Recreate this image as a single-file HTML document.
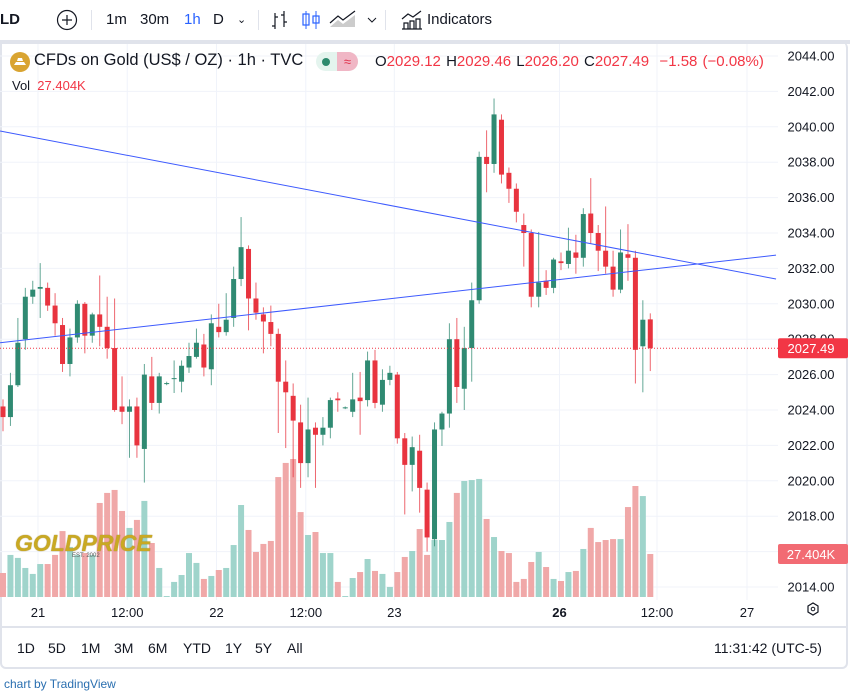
<!DOCTYPE html>
<html><head><meta charset="utf-8">
<style>
*{margin:0;padding:0;box-sizing:border-box}
body{width:850px;height:698px;background:#fff;font-family:"Liberation Sans",sans-serif;color:#131722;position:relative;overflow:hidden}
.a{position:absolute;white-space:nowrap}
.tb{font-size:15px;top:11px}
.rb{font-size:14px;top:640px}
</style></head><body>
<div class="a" style="left:0;top:0;width:850px;height:40px;background:#fff"></div>
<div class="a tb" style="left:0;font-weight:bold">LD</div>
<svg class="a" style="left:56px;top:9px" width="22" height="22"><circle cx="11" cy="11" r="9.5" fill="none" stroke="#131722" stroke-width="1.2"/><path d="M11 6v10M6 11h10" stroke="#131722" stroke-width="1.2"/></svg>
<div class="a" style="left:91px;top:10px;width:1px;height:20px;background:#e0e3eb"></div>
<div class="a tb" style="left:106px">1m</div>
<div class="a tb" style="left:140px">30m</div>
<div class="a tb" style="left:184px;color:#2962ff">1h</div>
<div class="a tb" style="left:213px">D</div>
<div class="a tb" style="left:237px;font-size:11px;top:13px">&#8964;</div>
<div class="a" style="left:258px;top:10px;width:1px;height:20px;background:#e0e3eb"></div>
<svg class="a" style="left:270px;top:9px" width="120" height="22">
<path d="M5 4v16M5 17h-3M5 8h3M14 2v16M14 6h-3M14 13h3" stroke="#131722" stroke-width="1.2" fill="none"/>
<path d="M36 2v18M46 2v18" stroke="#2962ff"/><rect x="33" y="5" width="6" height="11" fill="none" stroke="#2962ff" stroke-width="1.2"/><rect x="43" y="7" width="6" height="7" fill="none" stroke="#2962ff" stroke-width="1.2"/>
<path d="M60 18l8-7 5 4 12-9v12z" fill="#ccc"/><path d="M60 14l8-7 5 4 12-9" stroke="#131722" fill="none" stroke-width="1.2"/>
<path d="M98 9l4 4 4-4" stroke="#131722" fill="none"/></svg>
<div class="a" style="left:385px;top:10px;width:1px;height:20px;background:#e0e3eb"></div>
<svg class="a" style="left:400px;top:9px" width="24" height="22"><path d="M2 20h20M4 20v-6h4v6M10 20v-8h4v8M16 20v-10h4v10M2 10l6-5 5 3 8-6" stroke="#131722" fill="none" stroke-width="1.2"/></svg>
<div class="a tb" style="left:427px">Indicators</div>
<div class="a" style="left:0;top:40px;width:850px;height:4px;background:#e0e3eb"></div>
<div class="a" style="left:0;top:42px;width:848px;height:627px;border:2px solid #e0e3eb;border-top:none;border-radius:0 6px 6px 6px"></div>

<svg id="chart" class="a" style="left:0;top:0" width="850" height="698"></svg>

<svg class="a" style="left:9px;top:51px" width="22" height="22"><circle cx="11" cy="11" r="10" fill="#d9a431"/><path d="M5 14h12l-2-3H7zM8 10h6l-1-3H9z" fill="#fff"/></svg>
<div class="a" style="left:34px;top:51px;font-size:16.5px">CFDs on Gold (US$ / OZ) · 1h · TVC</div>
<div class="a" style="left:316px;top:52px;width:42px;height:19px;border-radius:10px;background:#e4f4ee;overflow:hidden"><div class="a" style="left:6px;top:6px;width:8px;height:8px;border-radius:4px;background:#2d8a6d"></div><div class="a" style="left:21px;top:0;width:21px;height:19px;background:#f0b6c5;color:#e0304a;font-size:13px;text-align:center;line-height:19px">≈</div></div>
<div class="a" style="left:375px;top:53px;font-size:15px;color:#f23645;word-spacing:1px"><span style="color:#131722">O</span>2029.12 <span style="color:#131722">H</span>2029.46 <span style="color:#131722">L</span>2026.20 <span style="color:#131722">C</span>2027.49 &nbsp;−1.58 (−0.08%)</div>
<div class="a" style="left:12px;top:78px;font-size:13px">Vol&nbsp; <span style="color:#f23645">27.404K</span></div>

<div class="a" style="left:15px;top:530px;font-size:23px;font-weight:bold;color:#c9a923;font-style:italic;text-shadow:0 0 1px #8a6d10">GOLDPRICE</div>
<div class="a" style="left:72px;top:553px;font-size:6px;color:#555">EST. 2002</div>

<div class="a rb" style="left:17px">1D</div>
<div class="a rb" style="left:48px">5D</div>
<div class="a rb" style="left:81px">1M</div>
<div class="a rb" style="left:114px">3M</div>
<div class="a rb" style="left:148px">6M</div>
<div class="a rb" style="left:183px">YTD</div>
<div class="a rb" style="left:225px">1Y</div>
<div class="a rb" style="left:255px">5Y</div>
<div class="a rb" style="left:287px">All</div>
<div class="a rb" style="left:714px">11:31:42 (UTC-5)</div>
<div class="a" style="left:4px;top:677px;font-size:12px;color:#2a6fb0">chart by TradingView</div>

<script>
const opens=[2024.2,2023.6,2025.4,2028.0,2030.4,2030.85,2030.9,2029.9,2028.8,2026.6,2028.1,2030.0,2028.2,2029.4,2028.7,2027.5,2024.2,2023.9,2024.2,2021.8,2025.9,2024.4,2025.5,2025.75,2025.6,2026.4,2027.0,2027.7,2026.3,2028.7,2028.4,2029.2,2031.4,2033.1,2030.3,2029.4,2028.97,2028.3,2025.6,2024.8,2023.3,2021.0,2023.0,2022.6,2023.0,2024.65,2024.1,2023.9,2024.7,2024.56,2026.8,2024.3,2025.7,2026.0,2022.4,2020.9,2021.7,2019.5,2016.7,2022.9,2023.8,2028.0,2025.2,2027.5,2030.2,2038.3,2037.9,2040.4,2037.4,2036.5,2034.45,2034.0,2030.4,2031.3,2030.9,2032.4,2032.25,2032.9,2032.6,2035.1,2034.0,2033.0,2032.1,2030.8,2032.8,2032.6,2027.6,2029.12];
const highs=[2024.6,2026.1,2029.2,2030.9,2031.3,2032.3,2031.2,2030.6,2029.2,2028.6,2030.2,2030.1,2029.5,2031.6,2030.4,2030.3,2025.9,2024.6,2024.7,2026.6,2027.0,2026.1,2025.6,2026.8,2026.8,2027.8,2028.6,2028.3,2029.4,2030.0,2030.6,2032.1,2034.9,2033.3,2031.2,2029.8,2029.9,2028.6,2026.8,2025.5,2024.3,2024.7,2023.3,2023.6,2024.7,2025.0,2024.2,2026.1,2026.15,2027.3,2027.4,2026.3,2026.5,2026.15,2022.7,2022.5,2022.6,2019.9,2023.3,2023.9,2028.9,2029.2,2028.7,2031.2,2038.6,2039.8,2041.6,2040.7,2037.7,2036.8,2035.1,2034.2,2034.06,2031.9,2032.6,2032.9,2034.3,2033.9,2035.4,2037.1,2034.45,2035.5,2033.0,2034.2,2034.5,2033.0,2030.2,2029.46];
const lows=[2022.8,2023.1,2025.3,2027.4,2030.0,2029.2,2029.6,2028.2,2026.15,2025.9,2027.8,2027.2,2027.8,2027.6,2026.9,2023.9,2023.2,2021.3,2021.3,2019.9,2024.0,2023.8,2025.4,2024.96,2025.0,2026.1,2026.9,2025.9,2025.4,2028.1,2028.2,2028.7,2031.0,2028.5,2029.1,2027.2,2027.6,2022.7,2021.85,2020.2,2019.6,2020.2,2019.6,2022.0,2022.4,2023.9,2024.05,2023.6,2022.6,2024.2,2024.1,2023.9,2025.4,2022.1,2018.1,2019.4,2018.2,2016.0,2016.3,2021.97,2023.0,2024.4,2024.0,2025.6,2030.0,2036.3,2037.4,2036.8,2035.7,2034.6,2032.1,2029.8,2029.8,2030.5,2030.6,2031.9,2032.0,2031.7,2032.1,2033.4,2031.85,2031.7,2030.4,2030.6,2031.3,2025.5,2025.0,2026.2];
const closes=[2023.6,2025.4,2027.8,2030.4,2030.8,2030.95,2029.9,2028.9,2026.6,2028.1,2030.0,2028.2,2029.4,2028.7,2027.5,2024.0,2023.9,2024.2,2022.0,2026.0,2024.4,2025.9,2025.52,2025.8,2026.5,2027.05,2027.8,2026.4,2028.9,2028.4,2029.1,2031.4,2033.2,2030.3,2029.5,2029.0,2028.3,2025.6,2025.0,2023.4,2021.0,2022.9,2022.6,2023.0,2024.56,2024.55,2024.15,2024.6,2024.5,2026.8,2024.4,2025.7,2026.1,2022.4,2020.9,2021.9,2019.6,2016.8,2022.9,2023.8,2028.0,2025.3,2027.5,2030.2,2038.3,2037.9,2040.7,2037.3,2036.5,2035.2,2034.0,2030.4,2031.2,2030.9,2032.5,2032.3,2033.0,2032.6,2035.07,2034.0,2033.0,2032.1,2030.8,2032.9,2032.6,2027.4,2029.1,2027.49];
const volumes=[15.3,26.8,24.9,18.5,14.7,21.0,21.0,26.8,42.0,31.9,26.8,28.0,26.8,59.9,66.3,68.2,54.8,44.0,49.1,61.2,34.4,18.5,0.6,9.6,14.0,28.0,21.7,11.5,13.4,17.2,18.5,33.1,58.6,42.7,28.7,33.8,35.7,76.4,85.4,87.9,54.1,39.5,41.4,28.0,28.0,9.6,0.6,12.1,15.9,24.2,16.6,14.7,6.4,15.9,25.5,29.3,43.3,26.8,36.3,36.3,47.8,66.3,73.9,74.5,75.2,49.7,38.2,29.3,28.0,9.6,11.5,22.3,28.7,19.1,11.5,10.2,15.9,16.6,30.6,44.0,35.0,36.3,36.9,36.9,57.3,70.7,64.3,27.404];
const priceTicks=[2044,2042,2040,2038,2036,2034,2032,2030,2028,2026,2024,2022,2020,2018,2016,2014];
const timeLabels=["21","12:00","22","12:00","23","26","12:00","27"];
const timeLabelIdx=[4.7,16.7,28.7,40.7,52.6,74.8,87.9,100];
const trendLine1=[[-0.4,2039.76],[103.9,2031.4]];
const trendLine2=[[-0.4,2027.8],[103.9,2032.75]];
const lastPrice=2027.49, lastVol="27.404K";

const NS="http://www.w3.org/2000/svg";
const svg=document.getElementById('chart');
const yP=p=>56+(2044-p)*17.7;
const xI=i=>3+i*7.44;
const yV=v=>597-v/0.637;
function mk(tag,attrs,parent){const e=document.createElementNS(NS,tag);for(const k in attrs)e.setAttribute(k,attrs[k]);(parent||svg).appendChild(e);return e;}
const clip=mk('clipPath',{id:'pc'});mk('rect',{x:0,y:44,width:778,height:556},clip);
const g=mk('g',{'clip-path':'url(#pc)'});


priceTicks.forEach(p=>{const l=mk('line',{x1:0,x2:778,y1:yP(p),y2:yP(p),stroke:'#f0f3fa','stroke-width':1},g);

});
timeLabelIdx.forEach(i=>{const l=mk('line',{x1:xI(i),x2:xI(i),y1:44,y2:600,stroke:'#f0f3fa'},g);

});
volumes.forEach((v,i)=>{const up=closes[i]>=opens[i];const r=mk('rect',{x:xI(i)-3,y:yV(v),width:6,height:597-yV(v),fill:up?'#9fd4cb':'#f0a8a8'},g);

});
opens.forEach((o,i)=>{const c=closes[i],up=c>=o,col=up?'#2f8a72':'#e8343f';const x=xI(i);
const w=mk('line',{x1:x,x2:x,y1:yP(highs[i]),y2:yP(lows[i]),stroke:col,'stroke-width':1,opacity:0.75},g);


const t=Math.min(yP(o),yP(c)),h=Math.max(1,Math.abs(yP(o)-yP(c)));
const b=mk('rect',{x:x-2.5,y:t,width:5,height:h,fill:col},g);

});
[trendLine1,trendLine2].forEach(tl=>{const l=mk('line',{x1:xI(tl[0][0]),y1:yP(tl[0][1]),x2:xI(tl[1][0]),y2:yP(tl[1][1]),stroke:'#3d5afe','stroke-width':1},g);

});
const pl=mk('line',{x1:0,x2:778,y1:yP(lastPrice),y2:yP(lastPrice),stroke:'#f23645','stroke-dasharray':'1 2','stroke-width':1},g);


priceTicks.forEach(p=>{const t=mk('text',{x:811,y:yP(p)+4.5,'text-anchor':'middle','font-size':13,fill:'#131722','font-family':'Liberation Sans, sans-serif'});t.textContent=p.toFixed(2);

});
const lb=mk('rect',{x:778,y:yP(lastPrice)-10,width:70,height:20,fill:'#f23645',rx:2});


const lt=mk('text',{x:811,y:yP(lastPrice)+5,'text-anchor':'middle','font-size':13,fill:'#fff','font-family':'Liberation Sans, sans-serif'});lt.textContent=lastPrice.toFixed(2);
const vb=mk('rect',{x:778,y:yV(volumes[volumes.length-1])-10,width:70,height:20,fill:'#f26b73',rx:2});


const vt=mk('text',{x:811,y:yV(volumes[volumes.length-1])+5,'text-anchor':'middle','font-size':13,fill:'#fff','font-family':'Liberation Sans, sans-serif'});vt.textContent=lastVol;
const tl=mk('line',{x1:0,x2:848,y1:627,y2:627,stroke:'#e0e3eb','stroke-width':2});
timeLabels.forEach((s,k)=>{const t=mk('text',{x:xI(timeLabelIdx[k]),y:617,'text-anchor':'middle','font-size':13,fill:'#131722','font-weight':s==='26'?'bold':'normal','font-family':'Liberation Sans, sans-serif'});t.textContent=s;

});
const gear=mk('path',{d:'M808 606l5-3 5 3v6l-5 3-5-3z',fill:'none',stroke:'#131722','stroke-width':1.2});


mk('circle',{cx:813,cy:609,r:1.8,fill:'none',stroke:'#131722'});
</script>
</body></html>
